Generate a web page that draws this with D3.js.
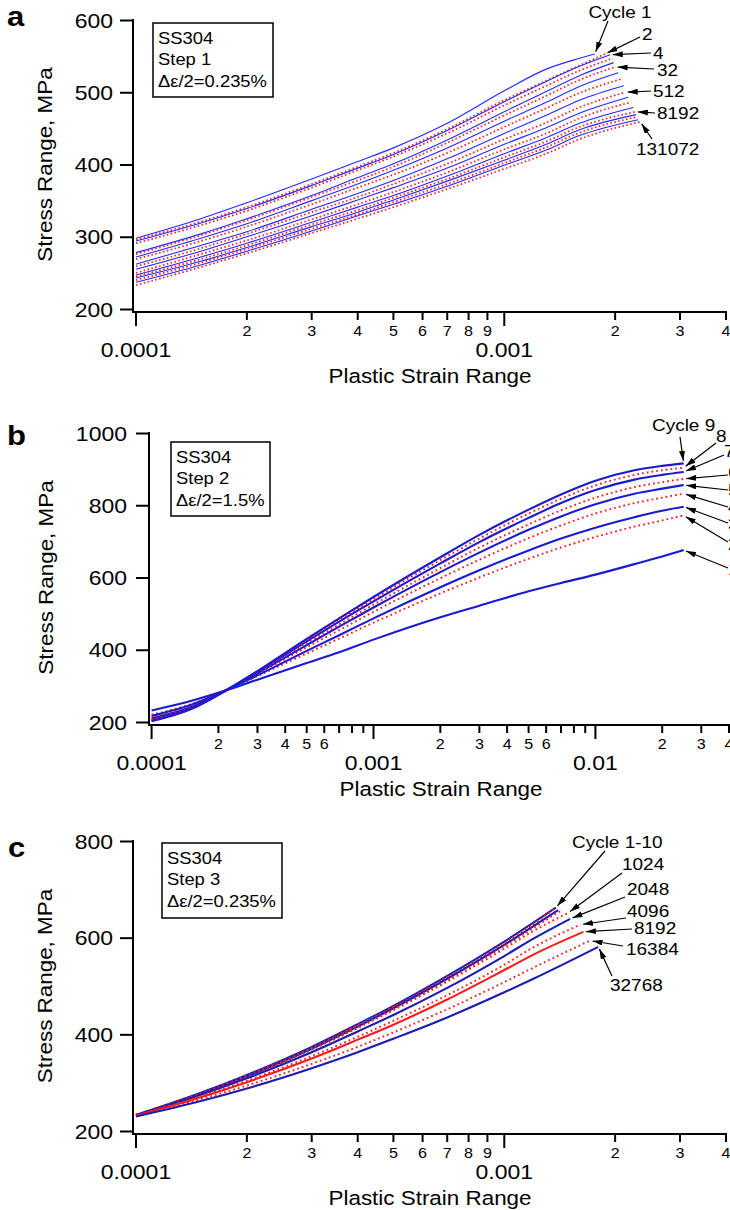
<!DOCTYPE html>
<html>
<head>
<meta charset="utf-8">
<script src="https://cdn.jsdelivr.net/npm/d3@7"></script>
<style>
  body { margin: 0; background: #fff; }
  svg { display: block; }
  text { font-family: "Liberation Sans", Arial, Helvetica, sans-serif; }
</style>
</head>
<body>
<svg id="chart" width="730" height="1210"></svg>
<script>
// ---- Panel a: step 1, cycles 1 .. 131072 ----
var cyclesA = ["1","2","4","8","16","32","64","128","256","512","1024","2048","4096","8192","16384","32768","65536","131072"];
var strainA = [1e-4, 1.5e-4, 2e-4, 3e-4, 4e-4, 5e-4, 7e-4, 1e-3, 1.3e-3, 1.6e-3];
var stressA = [
  [298, 325, 347, 380, 404, 423, 457, 502, 532, 547],
  [296, 321, 341, 373, 397, 416, 449, 489, 516, 537],
  [294, 319, 339, 371, 395, 414, 447, 487, 515, 536],
  [291, 316, 336, 368, 392, 411, 443, 482, 509, 530],
  [278, 304, 325, 357, 382, 401, 434, 473, 501, 523],
  [276, 302, 323, 355, 378, 397, 430, 468, 495, 517],
  [272, 298, 318, 350, 373, 392, 423, 460, 486, 508],
  [269, 294, 314, 345, 368, 386, 416, 452, 478, 499],
  [262, 288, 307, 338, 360, 378, 408, 443, 468, 489],
  [259, 284, 304, 334, 355, 373, 401, 435, 458, 479],
  [255, 280, 300, 329, 351, 368, 395, 428, 451, 471],
  [250, 276, 295, 324, 345, 362, 389, 421, 443, 464],
  [247, 272, 291, 320, 341, 357, 384, 415, 437, 457],
  [245, 269, 288, 317, 337, 354, 380, 410, 432, 452],
  [243, 266, 285, 314, 334, 351, 377, 406, 428, 448],
  [240, 264, 283, 311, 331, 348, 373, 402, 424, 444],
  [237, 261, 280, 308, 329, 345, 370, 399, 420, 440],
  [233, 258, 277, 305, 325, 341, 366, 394, 415, 435]
];
var endStrainA = [1.76e-3, 1.88e-3, 1.94e-3, 1.97e-3, 1.98e-3, 2.0e-3, 2.04e-3, 2.07e-3, 2.11e-3, 2.13e-3, 2.17e-3, 2.2e-3, 2.24e-3, 2.27e-3, 2.28e-3, 2.3e-3, 2.31e-3, 2.34e-3];
var endStressA = [553, 553, 552, 547, 541, 535, 527, 518, 509, 500, 493, 486, 479, 473, 469, 466, 462, 459];

// ---- Panel b: step 2, cycles 1 .. 9 ----
var cyclesB = ["1","2","3","4","5","6","7","8","9"];
var strainB = [1e-4, 1.5e-4, 2.2e-4, 3e-4, 5e-4, 7e-4, 1e-3, 2e-3, 3e-3, 5e-3, 7e-3, 1e-2, 1.5e-2, 2e-2, 2.5e-2];
var stressB = [
  [232, 258, 289, 317, 363, 393, 428, 490, 522, 562, 585, 608, 637, 658, 676],
  [220, 249, 289, 327, 390, 431, 475, 556, 600, 652, 683, 712, 741, 758, 772],
  [217, 247, 290, 329, 397, 440, 487, 573, 620, 675, 708, 738, 767, 785, 796],
  [213, 243, 290, 333, 407, 454, 505, 598, 649, 709, 744, 777, 806, 821, 832],
  [210, 241, 290, 335, 413, 464, 517, 615, 669, 732, 769, 803, 832, 846, 856],
  [207, 239, 290, 337, 418, 470, 525, 626, 683, 747, 786, 821, 850, 864, 873],
  [205, 237, 290, 339, 423, 478, 534, 639, 698, 765, 806, 842, 871, 884, 892],
  [204, 236, 290, 340, 427, 482, 540, 648, 708, 777, 818, 855, 884, 897, 904],
  [202, 235, 290, 341, 430, 487, 546, 656, 718, 788, 830, 868, 897, 909, 916]
];

// ---- Panel c: step 3 ----
var seriesC = ["1","2","5","10","1024","2048","4096","8192","16384","32768"];
var strainC = [1e-4, 1.5e-4, 2e-4, 3e-4, 4e-4, 5e-4, 7e-4, 1e-3, 1.2e-3];
var stressC = [
  [233, 279, 316, 374, 421, 459, 521, 592, 631],
  [234, 278, 315, 372, 419, 457, 518, 589, 628],
  [232, 277, 313, 370, 416, 454, 515, 585, 624],
  [233, 276, 312, 369, 415, 452, 512, 582, 620],
  [233, 277, 312, 368, 413, 450, 509, 577, 614],
  [233, 275, 309, 363, 406, 440, 496, 562, 598],
  [232, 272, 304, 355, 395, 428, 481, 544, 580],
  [232, 270, 301, 350, 389, 420, 472, 533, 565],
  [231, 266, 294, 339, 374, 404, 452, 508, 538],
  [230, 262, 288, 330, 363, 391, 435, 487, 515]
];
var endStrainC = [1.38e-3, 1.37e-3, 1.40e-3, 1.42e-3, 1.49e-3, 1.51e-3, 1.61e-3, 1.64e-3, 1.71e-3, 1.80e-3];
var endStressC = [662, 660, 657, 655, 651, 639, 627, 612, 594, 581];

// ---- Axis ticks ----
var yTicksA = [200, 300, 400, 500, 600];
var yTicksB = [200, 400, 600, 800, 1000];
var yTicksC = [200, 400, 600, 800];
var decadesA = [1e-4, 1e-3];
var decadeLabelsA = ["0.0001", "0.001"];
var minorA = [2e-4, 3e-4, 4e-4, 5e-4, 6e-4, 7e-4, 8e-4, 9e-4, 2e-3, 3e-3, 4e-3];
var minorLabelsA = ["2","3","4","5","6","7","8","9","2","3","4"];
var decadesB = [1e-4, 1e-3, 1e-2];
var decadeLabelsB = ["0.0001", "0.001", "0.01"];
var minorB = [2e-4, 3e-4, 4e-4, 5e-4, 6e-4, 7e-4, 8e-4, 9e-4, 2e-3, 3e-3, 4e-3, 5e-3, 6e-3, 7e-3, 8e-3, 9e-3, 2e-2, 3e-2, 4e-2];
var minorLabelsB = ["2","3","4","5","6","","","","2","3","4","5","6","","","","2","3","4"];

var legendA = ["SS304", "Step 1", "\u0394\u03b5/2=0.235%"];
var legendB = ["SS304", "Step 2", "\u0394\u03b5/2=1.5%"];
var legendC = ["SS304", "Step 3", "\u0394\u03b5/2=0.235%"];

// ---- drawing ----
var SX = 1.15;   // the figure's lettering is a little wide
var BLACK = "#000";
var svg = d3.select("#chart");

svg.append("defs").append("marker")
    .attr("id", "arrow")
    .attr("viewBox", "0 0 10 6")
    .attr("refX", 10).attr("refY", 3)
    .attr("markerWidth", 10).attr("markerHeight", 6)
    .attr("markerUnits", "userSpaceOnUse")
    .attr("orient", "auto")
  .append("path")
    .attr("d", "M0,0L10,3L0,6Z")
    .attr("fill", BLACK);

function addText(g, x, y, str, size, anchor, weight, rotate) {
  return g.append("text")
    .attr("transform", "translate(" + x + "," + y + ")" + (rotate ? " rotate(-90)" : "") + " scale(" + SX + ",1)")
    .attr("font-size", size)
    .attr("font-weight", weight || "normal")
    .attr("text-anchor", anchor || "start")
    .attr("fill", BLACK)
    .text(str);
}

var lineStyles = {
  blueThin: { stroke: "#2626ff", width: 1.1, dash: null },
  dotThin:  { stroke: "#ff1f1f", width: 1.7, dash: "1.6,2.4" },
  blue:     { stroke: "#1a1ad0", width: 2.1, dash: null },
  navy:     { stroke: "#1c1cae", width: 2.1, dash: null },
  dot:      { stroke: "#ff1f1f", width: 1.9, dash: "1.8,3" },
  red:      { stroke: "#ff1a1a", width: 2.1, dash: null }
};

function drawPanel(p) {
  var g = svg.append("g");
  var x = d3.scaleLog().domain(p.xDomain).range(p.xRange);
  var y = d3.scaleLinear().domain(p.yDomain).range(p.yRange);

  // curves
  var line = d3.line()
      .x(function(d) { return x(d[0]); })
      .y(function(d) { return y(d[1]); })
      .curve(d3.curveMonotoneX);
  p.rows.forEach(function(row, i) {
    var pts = p.strain.map(function(s, k) { return [s, row[k]]; });
    if (p.endStrain) pts.push([p.endStrain[i], p.endStress[i]]);
    var st = lineStyles[p.style(i)];
    g.append("path")
      .attr("d", line(pts))
      .attr("fill", "none")
      .attr("stroke", st.stroke)
      .attr("stroke-width", st.width)
      .attr("stroke-dasharray", st.dash)
      .attr("stroke-linejoin", "round");
  });

  // axis lines
  var yTop = y(p.yTicks[p.yTicks.length - 1]);
  g.append("line")
    .attr("x1", p.axisX).attr("x2", p.axisX)
    .attr("y1", yTop - 1).attr("y2", p.axisY + 1)
    .attr("stroke", BLACK).attr("stroke-width", 2);
  g.append("line")
    .attr("x1", p.axisX - 1).attr("x2", p.xEnd)
    .attr("y1", p.axisY).attr("y2", p.axisY)
    .attr("stroke", BLACK).attr("stroke-width", 2);

  // y axis ticks
  var yAxis = d3.axisLeft(y).tickValues(p.yTicks).tickFormat(d3.format("d"))
      .tickSize(13).tickSizeOuter(0);
  var gy = g.append("g").attr("transform", "translate(" + p.axisX + ",0)").call(yAxis);
  gy.attr("font-family", null);
  gy.select(".domain").remove();
  gy.selectAll(".tick line").attr("stroke", BLACK).attr("stroke-width", 2);
  gy.selectAll(".tick text")
    .attr("font-size", 20)
    .attr("fill", BLACK)
    .attr("x", -(13 + p.yPad) / SX)
    .attr("dy", "0.36em")
    .attr("transform", "scale(" + SX + ",1)");

  // x axis ticks (log)
  var gx = g.append("g").attr("transform", "translate(0," + p.axisY + ")");
  gx.selectAll(".major").data(p.decades).enter().append("line")
    .attr("x1", function(d) { return x(d); }).attr("x2", function(d) { return x(d); })
    .attr("y1", 0).attr("y2", 14)
    .attr("stroke", BLACK).attr("stroke-width", 2);
  gx.selectAll(".minor").data(p.minor).enter().append("line")
    .attr("x1", function(d) { return x(d); }).attr("x2", function(d) { return x(d); })
    .attr("y1", 0).attr("y2", 8)
    .attr("stroke", BLACK).attr("stroke-width", 2);
  p.minor.forEach(function(d, i) {
    if (p.minorLabels[i]) addText(gx, x(d), 24, p.minorLabels[i], 14, "middle");
  });
  p.decades.forEach(function(d, i) {
    addText(gx, x(d), 45, p.decadeLabels[i], 20, "middle");
  });
  addText(gx, p.xTitleX, 71, "Plastic Strain Range", 19.5, "middle");

  // y title
  addText(g, p.yTitleX, (p.yRange[0] + yTop) / 2, "Stress Range, MPa", 19.5, "middle", null, true);

  // panel letter
  addText(g, p.letterPos[0], p.letterPos[1], p.letter, 27, "start", "bold");

  // legend box
  var lb = p.legendBox;
  g.append("rect")
    .attr("x", lb[0]).attr("y", lb[1]).attr("width", lb[2]).attr("height", lb[3])
    .attr("fill", "#fff").attr("stroke", BLACK).attr("stroke-width", 1.5);
  p.legend.forEach(function(t, i) {
    addText(g, lb[0] + 5, lb[1] + 20.5 + i * 21.7, t, 16, "start");
  });

  // cycle annotations with arrows to the curve ends
  p.notes.forEach(function(n) {
    var last = p.rows[n.i].length - 1;
    var ex = p.endStrain ? x(p.endStrain[n.i]) : x(p.strain[last]);
    var ey = p.endStress ? y(p.endStress[n.i]) : y(p.rows[n.i][last]);
    var dx = n.ax - ex, dy = n.ay - ey, len = Math.sqrt(dx * dx + dy * dy);
    g.append("line")
      .attr("x1", n.ax).attr("y1", n.ay)
      .attr("x2", ex + 2.5 * dx / len).attr("y2", ey + 2.5 * dy / len)
      .attr("stroke", BLACK).attr("stroke-width", 1.2)
      .attr("marker-end", "url(#arrow)");
    addText(g, n.tx, n.ty, n.text, 16.5, n.anchor || "start");
  });
}

drawPanel({
  letter: "a", letterPos: [7, 26],
  xDomain: [1e-4, 4e-3], xRange: [136, 726],
  yDomain: [200, 600], yRange: [309, 20],
  axisX: 133, axisY: 312, xEnd: 727, yPad: 7,
  yTicks: yTicksA, decades: decadesA, decadeLabels: decadeLabelsA,
  minor: minorA, minorLabels: minorLabelsA,
  xTitleX: 430, yTitleX: 52,
  strain: strainA, rows: stressA, endStrain: endStrainA, endStress: endStressA,
  style: function(i) { return i % 2 === 0 ? "blueThin" : "dotThin"; },
  legend: legendA, legendBox: [153, 23, 120, 74],
  notes: [
    { i: 0,  text: "Cycle " + cyclesA[0], tx: 620, ty: 18, anchor: "middle", ax: 608, ay: 21 },
    { i: 1,  text: cyclesA[1],  tx: 642, ty: 40,  ax: 640, ay: 37 },
    { i: 2,  text: cyclesA[2],  tx: 653, ty: 59,  ax: 651, ay: 53 },
    { i: 5,  text: cyclesA[5],  tx: 657, ty: 76,  ax: 654, ay: 69 },
    { i: 9,  text: cyclesA[9],  tx: 653, ty: 97,  ax: 651, ay: 91 },
    { i: 13, text: cyclesA[13], tx: 657, ty: 119, ax: 655, ay: 113 },
    { i: 17, text: cyclesA[17], tx: 636, ty: 155, ax: 652, ay: 139 }
  ]
});

drawPanel({
  letter: "b", letterPos: [7, 445],
  xDomain: [1e-4, 4e-2], xRange: [151.6, 729],
  yDomain: [200, 1000], yRange: [722, 433],
  axisX: 149, axisY: 725, xEnd: 730, yPad: 9,
  yTicks: yTicksB, decades: decadesB, decadeLabels: decadeLabelsB,
  minor: minorB, minorLabels: minorLabelsB,
  xTitleX: 441, yTitleX: 53,
  strain: strainB, rows: stressB,
  style: function(i) { return i % 2 === 0 ? "blue" : "dot"; },
  legend: legendB, legendBox: [171, 442, 99, 74],
  notes: [
    { i: 8, text: "Cycle " + cyclesB[8], tx: 652, ty: 431, ax: 680, ay: 437 },
    { i: 7, text: cyclesB[7], tx: 716, ty: 442, ax: 716, ay: 443 },
    { i: 6, text: cyclesB[6], tx: 724, ty: 457, ax: 724, ay: 455 },
    { i: 5, text: cyclesB[5], tx: 728, ty: 478, ax: 728, ay: 475 },
    { i: 4, text: cyclesB[4], tx: 728, ty: 496, ax: 728, ay: 490 },
    { i: 3, text: cyclesB[3], tx: 728, ty: 513, ax: 728, ay: 507 },
    { i: 2, text: cyclesB[2], tx: 728, ty: 530, ax: 728, ay: 523 },
    { i: 1, text: cyclesB[1], tx: 728, ty: 550, ax: 728, ay: 542 },
    { i: 0, text: cyclesB[0], tx: 728, ty: 575, ax: 728, ay: 568 }
  ]
});

var styleC = ["navy", "dot", "navy", "dot", "dot", "navy", "dot", "red", "dot", "navy"];
drawPanel({
  letter: "c", letterPos: [8, 857],
  xDomain: [1e-4, 4e-3], xRange: [136, 726],
  yDomain: [200, 800], yRange: [1131, 841],
  axisX: 133, axisY: 1134, xEnd: 727, yPad: 7,
  yTicks: yTicksC, decades: decadesA, decadeLabels: decadeLabelsA,
  minor: minorA, minorLabels: minorLabelsA,
  xTitleX: 430, yTitleX: 52,
  strain: strainC, rows: stressC, endStrain: endStrainC, endStress: endStressC,
  style: function(i) { return styleC[i]; },
  legend: legendC, legendBox: [162, 843, 120, 75],
  notes: [
    { i: 0, text: "Cycle " + seriesC[0] + "-" + seriesC[3], tx: 572, ty: 848, ax: 605, ay: 851 },
    { i: 4, text: seriesC[4], tx: 622, ty: 870, ax: 622, ay: 873 },
    { i: 5, text: seriesC[5], tx: 627, ty: 895, ax: 625, ay: 897 },
    { i: 6, text: seriesC[6], tx: 627, ty: 917, ax: 626, ay: 918 },
    { i: 7, text: seriesC[7], tx: 634, ty: 934, ax: 632, ay: 929 },
    { i: 8, text: seriesC[8], tx: 626, ty: 955, ax: 623, ay: 946 },
    { i: 9, text: seriesC[9], tx: 610, ty: 991, ax: 612, ay: 976 }
  ]
});
</script>
</body>
</html>
